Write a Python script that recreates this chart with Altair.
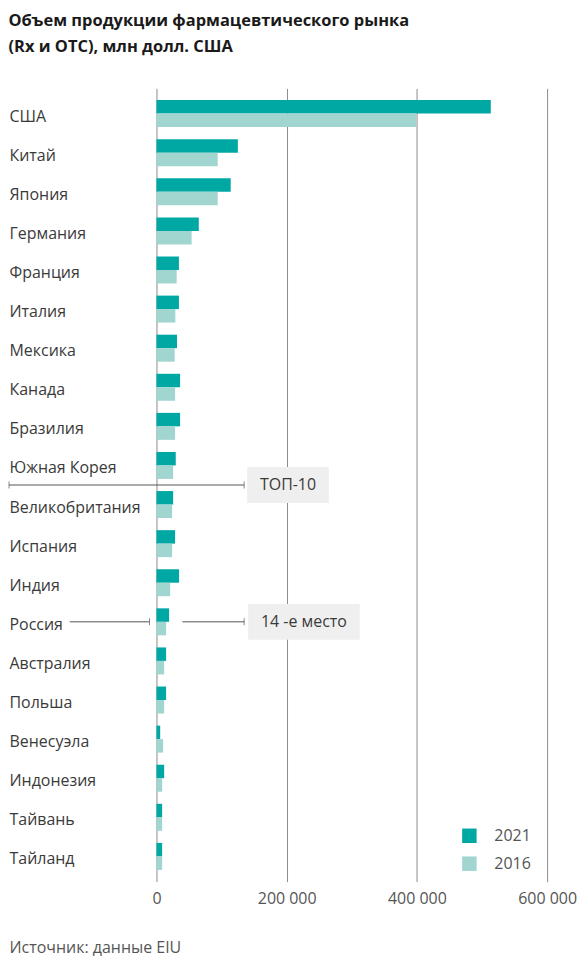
import altair as alt
import pandas as pd

countries = [
    "США", "Китай", "Япония", "Германия", "Франция", "Италия", "Мексика",
    "Канада", "Бразилия", "Южная Корея", "Великобритания", "Испания", "Индия",
    "Россия", "Австралия", "Польша", "Венесуэла", "Индонезия", "Тайвань", "Тайланд",
]
values_2021 = [513500, 125000, 114000, 65000, 34500, 34500, 31500, 36300, 36300, 29600,
               25600, 28600, 34700, 19400, 14800, 14800, 5700, 11800, 8700, 8700]
values_2016 = [399000, 94000, 94000, 54000, 31000, 29000, 28000, 28600, 28600, 25600,
               24000, 24000, 21000, 14800, 11800, 11800, 10200, 8700, 8700, 8700]
years = ["2021", "2016"]
x_ticks = [0, 200000, 400000, 600000]

FONT = "Open Sans"
TEXT = "#3a3a3a"
LINE = "#555555"

rows = []
for year, vals in zip(years, [values_2021, values_2016]):
    for country, v in zip(countries, vals):
        rows.append({"country": country, "year": year, "value": v})
data = pd.DataFrame(rows)

y_enc = alt.Y(
    "country:N",
    sort=countries,
    title=None,
    scale=alt.Scale(paddingInner=0.31, paddingOuter=0.3),
    axis=alt.Axis(
        labelAlign="left", labelPadding=148, labelFontSize=16, labelColor=TEXT,
        labelFont=FONT, labelOffset=3, ticks=False, domain=False,
    ),
)

bars = (
    alt.Chart(data)
    .mark_bar()
    .encode(
        x=alt.X(
            "value:Q",
            scale=alt.Scale(domain=[0, 600000], nice=False),
            title="Источник: данные EIU",
            axis=alt.Axis(
                values=x_ticks,
                labelExpr="replace(format(datum.value, ','), ',', ' ')",
                labelFontSize=16, labelColor="#555555", labelFont=FONT, labelPadding=9,
                labelFlush=False,
                ticks=False, domain=False,
                grid=True, gridColor="#8c8c8c", gridWidth=1,
                titleAnchor="start", titleAlign="left", titleX=-148, titleY=66,
                titleBaseline="middle", titleFontSize=16, titleFontWeight="normal",
                titleColor="#555555", titleFont=FONT,
            ),
        ),
        y=y_enc,
        yOffset=alt.YOffset("year:N", sort=years),
        color=alt.Color(
            "year:N",
            sort=years,
            scale=alt.Scale(domain=years, range=["#00a8a4", "#a0d5d0"]),
            legend=alt.Legend(
                title=None, orient="none", legendX=306, legendY=742,
                symbolType="square", symbolSize=210, symbolStrokeWidth=0,
                labelFontSize=16, labelFont=FONT, labelColor="#555555",
                labelOffset=17, rowPadding=12, padding=0,
            ),
        ),
    )
)


def segment(country, x1, x2, shift, tick_ends):
    seg = pd.DataFrame({"country": [country], "x": [x1], "x2": [x2]})
    rule = (
        alt.Chart(seg)
        .mark_rule(color=LINE, strokeWidth=1, yOffset=shift)
        .encode(x="x:Q", x2="x2:Q", y=alt.Y("country:N", sort=countries))
    )
    ends = pd.DataFrame({"country": [country] * len(tick_ends), "x": tick_ends})
    ticks = (
        alt.Chart(ends)
        .mark_tick(color=LINE, orient="vertical", size=7, thickness=1, yOffset=shift)
        .encode(x="x:Q", y=alt.Y("country:N", sort=countries))
    )
    return rule + ticks


def note_box(country, label, x1, x2, shift):
    box = pd.DataFrame({"country": [country], "x": [x1], "x2": [x2],
                        "xm": [(x1 + x2) / 2], "label": [label]})
    rect = (
        alt.Chart(box)
        .mark_bar(color="#efefef", height=36, yOffset=shift)
        .encode(x="x:Q", x2="x2:Q", y=alt.Y("country:N", sort=countries))
    )
    text = (
        alt.Chart(box)
        .mark_text(font=FONT, fontSize=16, color=TEXT, align="center",
                   baseline="middle", yOffset=shift)
        .encode(x="xm:Q", y=alt.Y("country:N", sort=countries), text="label:N")
    )
    return rect + text


top10_line = segment("Великобритания", -226500, 134700, -19.6, [-226500, 134700])
top10_box = note_box("Великобритания", "ТОП-10", 139300, 264800, -19.6)
russia_left = segment("Россия", -133200, -10700, 0, [-10700])
russia_right = segment("Россия", 39800, 134700, 0, [134700])
russia_box = note_box("Россия", "14 -е место", 140800, 312200, 0)

chart = (
    alt.layer(bars, top10_line, top10_box, russia_left, russia_right, russia_box)
    .properties(
        width=392,
        height=796,
        padding={"left": 0, "top": 3, "right": 0, "bottom": 5},
        title=alt.Title(
            text=["Объем продукции фармацевтического рынка", "(Rx и OTC), млн долл. США"],
            anchor="start", frame="bounds", fontSize=16.5, fontWeight="bold",
            font=FONT, color="#1a1a1a", lineHeight=26, offset=33,
        ),
    )
    .configure_view(stroke=None)
)

chart.save("out.html", embed_options={"renderer": "svg", "actions": False})
